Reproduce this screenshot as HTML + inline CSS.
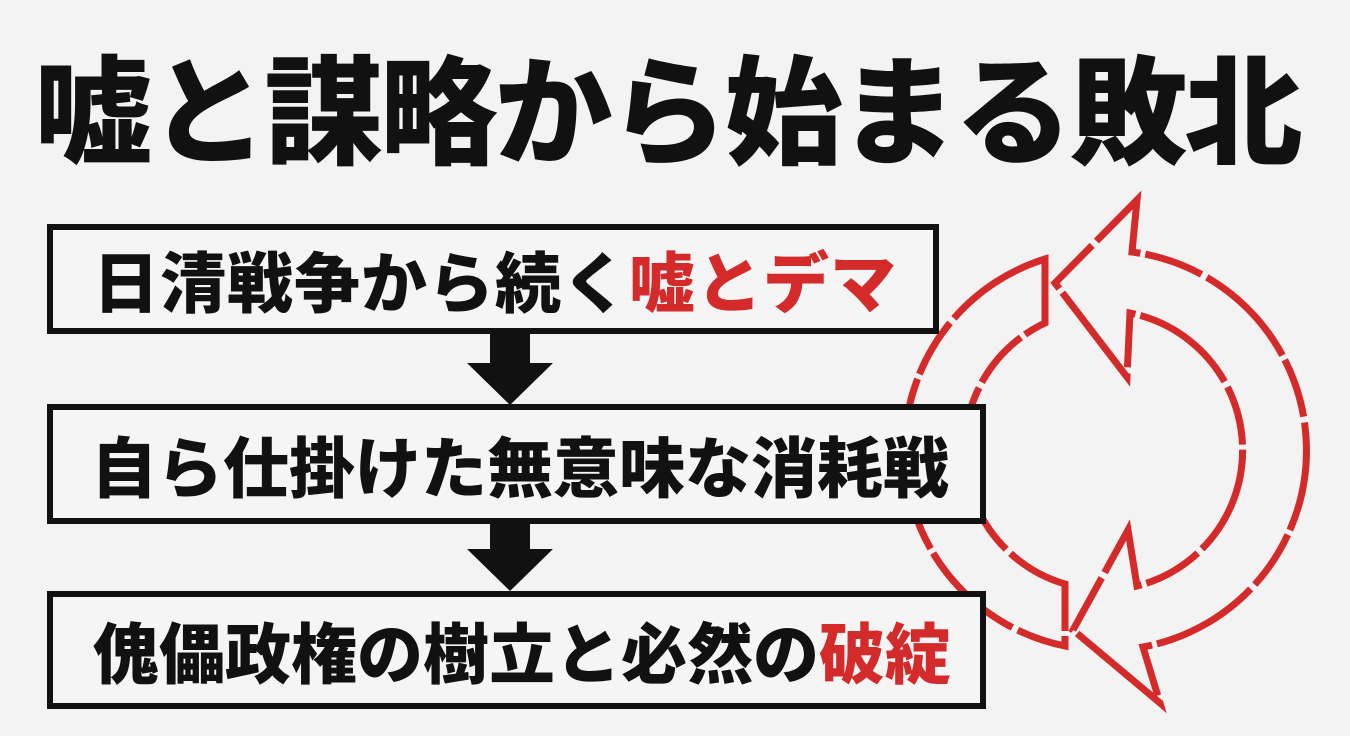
<!DOCTYPE html>
<html><head><meta charset="utf-8"><style>
html,body{margin:0;padding:0}
body{width:1350px;height:736px;background:#f3f3f3;position:relative;overflow:hidden;font-family:"Liberation Sans","Noto Sans CJK JP",sans-serif;font-weight:900;}
.t{position:absolute;left:-8px;top:50px;width:1350px;text-align:center;font-size:118px;line-height:130px;color:#111;letter-spacing:-3px;white-space:nowrap}
.b{position:absolute;border:6px solid #111;background:#f5f5f5;box-sizing:border-box;display:flex;align-items:center;padding-left:40px;white-space:nowrap;color:#111}
.r{color:#d42a2a}
</style></head><body>
<svg width="1350" height="736" style="position:absolute;left:0;top:0">
<g fill="none" stroke="#d42a2a" stroke-width="7" stroke-linejoin="miter" stroke-dasharray="110 6 60 5">
<path d="M1045,259 A200,200 0 0 0 1065,646 L1065,584 A140,140 0 0 1 1045,323 Z"/>
<path d="M1132,252 L1137,200 L1055,283 L1127,377 L1130,313 A140,140 0 0 1 1137,586 L1128,530 L1073,630 L1160,703 L1143,647 A200,200 0 0 0 1132,252 Z"/>
</g>
</svg>
<div class="t">嘘と謀略から始まる敗北</div>
<div class="b" style="left:47px;top:224px;width:892px;height:110px;font-size:66px;letter-spacing:1px">日清戦争から続く<span class="r">嘘とデマ</span></div>
<div class="b" style="left:47px;top:404px;width:939px;height:120px;font-size:66px;letter-spacing:0px;padding-left:38px">自ら仕掛けた無意味な消耗戦</div>
<div class="b" style="left:47px;top:591px;width:939px;height:118px;font-size:66px;letter-spacing:0px">傀儡政権の樹立と必然の<span class="r">破綻</span></div>
<svg width="1350" height="736" style="position:absolute;left:0;top:0">
<polygon points="490,334 530,334 530,363 553,363 510,405 467,363 490,363" fill="#111"/>
<polygon points="490,524 530,524 530,549 553,549 510,591 467,549 490,549" fill="#111"/>
</svg>
</body></html>
